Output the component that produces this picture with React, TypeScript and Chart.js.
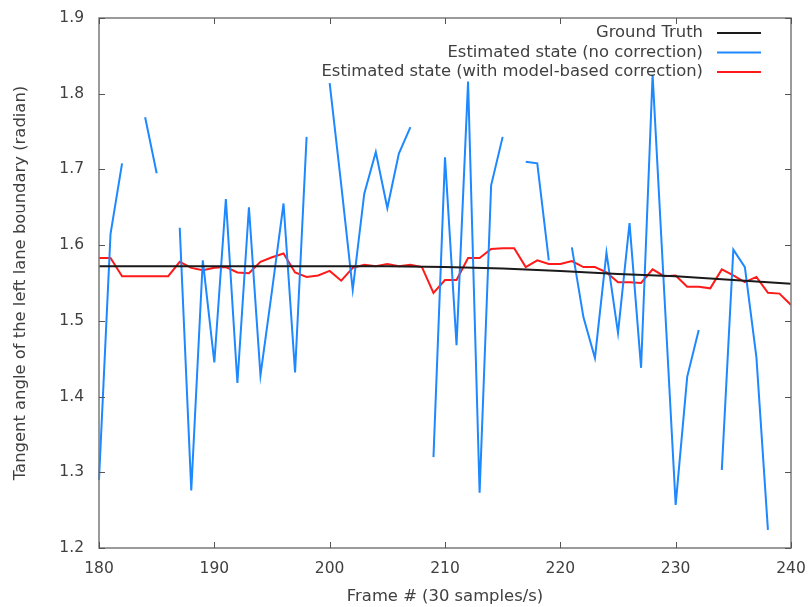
import React, { useEffect, useRef } from "react";
import { Chart, registerables } from "chart.js";

Chart.register(...registerables);

const frames: number[] = [
  180, 181, 182, 183, 184, 185, 186, 187, 188, 189,
  190, 191, 192, 193, 194, 195, 196, 197, 198, 199,
  200, 201, 202, 203, 204, 205, 206, 207, 208, 209,
  210, 211, 212, 213, 214, 215, 216, 217, 218, 219,
  220, 221, 222, 223, 224, 225, 226, 227, 228, 229,
  230, 231, 232, 233, 234, 235, 236, 237, 238, 239,
  240, 241,
];

const noCorrection: (number | null)[] = [
  1.29, 1.615, 1.708, null, 1.769, 1.695, null, 1.623, 1.276, 1.58,
  1.445, 1.661, 1.418, 1.65, 1.428, 1.54, 1.655, 1.432, 1.743, null,
  1.814, 1.68, 1.541, 1.668, 1.723, 1.649, 1.721, 1.756, null, 1.32,
  1.716, 1.468, 1.816, 1.273, 1.679, 1.743, null, 1.71, 1.708, 1.58,
  null, 1.597, 1.505, 1.451, 1.59, 1.484, 1.629, 1.438, 1.825, 1.54,
  1.257, 1.426, 1.488, null, 1.303, 1.594, 1.571, 1.452, 1.224, null,
  1.45, 1.3,
];

const withCorrection: (number | null)[] = [
  1.583, 1.583, 1.559, 1.559, 1.559, 1.559, 1.559, 1.578, 1.570, 1.567,
  1.570, 1.571, 1.564, 1.563, 1.578, 1.584, 1.589, 1.564, 1.558, 1.560,
  1.566, 1.553, 1.570, 1.574, 1.572, 1.575, 1.572, 1.574, 1.571, 1.537,
  1.554, 1.554, 1.583, 1.583, 1.595, 1.596, 1.596, 1.571, 1.580, 1.575,
  1.575, 1.579, 1.571, 1.571, 1.564, 1.551, 1.551, 1.550, 1.568, 1.559,
  1.560, 1.545, 1.545, 1.543, 1.568, 1.560, 1.551, 1.558, 1.537, 1.536,
  1.521,
];

const truthFrames: number[] = [180, 190, 200, 205, 210, 215, 220, 225, 230, 235, 240];
const truthValues: number[] = [1.572, 1.572, 1.572, 1.572, 1.571, 1.569, 1.566, 1.562, 1.559, 1.554, 1.549];

const xTicks: number[] = [180, 190, 200, 210, 220, 230, 240];
const yTicks: number[] = [1.2, 1.3, 1.4, 1.5, 1.6, 1.7, 1.8, 1.9];

const legendLabels: string[] = [
  "Ground Truth",
  "Estimated state (no correction)",
  "Estimated state (with model-based correction)",
];
const seriesColors: string[] = ["#1a1a1a", "#1e88ff", "#ff1a1a"];

const FONT = "'DejaVu Sans', sans-serif";
const TEXT = "#404040";

const framePlugin = {
  id: "gnuplotFrame",
  afterDraw(chart: any) {
    const { ctx, chartArea, scales } = chart;
    const { left, right, top, bottom } = chartArea;
    ctx.save();
    ctx.strokeStyle = "#7a7a7a";
    ctx.lineWidth = 1.5;
    ctx.strokeRect(left, top, right - left, bottom - top);
    ctx.lineWidth = 1;
    ctx.strokeStyle = "#555";
    const tl = 6;
    ctx.beginPath();
    xTicks.forEach((v) => {
      const x = Math.round(scales.x.getPixelForValue(v)) + 0.5;
      ctx.moveTo(x, bottom);
      ctx.lineTo(x, bottom - tl);
      ctx.moveTo(x, top);
      ctx.lineTo(x, top + tl);
    });
    yTicks.forEach((v) => {
      const y = Math.round(scales.y.getPixelForValue(v)) + 0.5;
      ctx.moveTo(left, y);
      ctx.lineTo(left + tl, y);
      ctx.moveTo(right, y);
      ctx.lineTo(right - tl, y);
    });
    ctx.stroke();

    // legend
    ctx.font = `16.4px ${FONT}`;
    ctx.textAlign = "right";
    ctx.textBaseline = "middle";
    const ys = [33, 52.5, 72];
    legendLabels.forEach((label, i) => {
      ctx.fillStyle = TEXT;
      ctx.fillText(label, 703, ys[i]);
      ctx.strokeStyle = seriesColors[i];
      ctx.lineWidth = 2;
      ctx.beginPath();
      ctx.moveTo(717, ys[i]);
      ctx.lineTo(761, ys[i]);
      ctx.stroke();
    });
    ctx.restore();
  },
};

export default function App() {
  const ref = useRef<HTMLCanvasElement | null>(null);

  useEffect(() => {
    if (!ref.current) return;
    const toPoints = (xs: number[], ys: (number | null)[]) =>
      ys.map((y, i) => ({ x: xs[i], y }));

    const chart = new Chart(ref.current, {
      type: "line",
      data: {
        datasets: [
          {
            label: legendLabels[0],
            data: toPoints(truthFrames, truthValues),
            borderColor: seriesColors[0],
            borderWidth: 2,
            pointRadius: 0,
            tension: 0,
          },
          {
            label: legendLabels[1],
            data: toPoints(frames, noCorrection),
            borderColor: seriesColors[1],
            borderWidth: 2,
            pointRadius: 0,
            tension: 0,
            spanGaps: false,
            clip: { left: 1, top: 1, right: 2, bottom: 1 },
          },
          {
            label: legendLabels[2],
            data: toPoints(frames, withCorrection),
            borderColor: seriesColors[2],
            borderWidth: 2,
            pointRadius: 0,
            tension: 0,
          },
        ],
      },
      options: {
        responsive: false,
        animation: false,
        layout: { padding: { top: 18, right: 18, left: 0, bottom: 0 } },
        plugins: {
          legend: { display: false },
          tooltip: { enabled: false },
        },
        scales: {
          x: {
            type: "linear",
            min: 180,
            max: 240,
            grid: { display: false, drawTicks: false },
            border: { display: false },
            afterBuildTicks: (s: any) => {
              s.ticks = xTicks.map((v) => ({ value: v }));
            },
            afterFit: (s: any) => {
              s.height = 59;
              s.paddingLeft = 0;
              s.paddingRight = 0;
              s.paddingTop = 0;
              s.paddingBottom = 0;
            },
            ticks: {
              padding: 12,
              color: TEXT,
              font: { family: FONT, size: 15.5 },
              maxRotation: 0,
              callback: (v: any) => String(v),
            },
            title: {
              display: true,
              text: "Frame # (30 samples/s)",
              color: TEXT,
              font: { family: FONT, size: 16.4 },
              padding: { top: 0, bottom: 0 },
            },
          },
          y: {
            min: 1.2,
            max: 1.9,
            grid: { display: false, drawTicks: false },
            border: { display: false },
            afterBuildTicks: (s: any) => {
              s.ticks = yTicks.map((v) => ({ value: v }));
            },
            afterFit: (s: any) => {
              s.width = 99;
              s.paddingLeft = 0;
              s.paddingRight = 0;
              s.paddingTop = 0;
              s.paddingBottom = 0;
            },
            ticks: {
              padding: 15,
              color: TEXT,
              font: { family: FONT, size: 15.5 },
              callback: (v: any) => Number(v).toFixed(1),
            },
            title: {
              display: true,
              text: "Tangent angle of the left lane boundary (radian)",
              color: TEXT,
              font: { family: FONT, size: 16.4 },
              padding: { top: 10.5, bottom: 0 },
            },
          },
        },
      },
      plugins: [framePlugin],
    } as any);

    return () => chart.destroy();
  }, []);

  return (
    <div style={{ position: "fixed", left: 0, top: 0, width: 809, height: 607, background: "#fff" }}>
      <canvas ref={ref} width={809} height={607} style={{ width: 809, height: 607 }} />
    </div>
  );
}
